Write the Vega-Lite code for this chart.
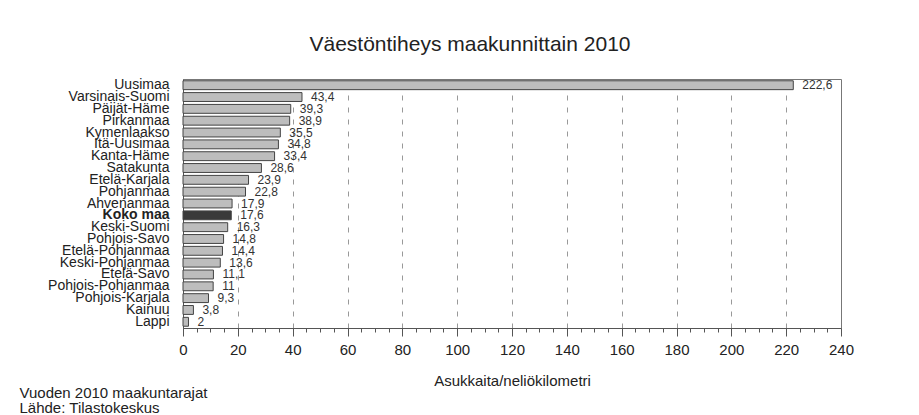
{
  "$schema": "https://vega.github.io/schema/vega-lite/v6.json",
  "autosize": {"type": "none"},
  "width": 658,
  "height": 249,
  "padding": {"left": 183, "top": 79, "right": 78, "bottom": 87},
  "background": "white",
  "config": {
    "font": "Liberation Sans",
    "locale": {"number": {"decimal": ",", "thousands": "\u00a0", "grouping": [3], "currency": ["", " €"]}},
    "view": {"stroke": "#777", "strokeWidth": 1}
  },
  "title": {
    "text": "Väestöntiheys maakunnittain 2010",
    "fontSize": 21,
    "fontWeight": "normal",
    "color": "#222",
    "anchor": "middle",
    "baseline": "alphabetic",
    "offset": 6,
    "dx": -42
  },
  "data": {
    "values": [
      {"maakunta": "Uusimaa", "tiheys": 222.6},
      {"maakunta": "Varsinais-Suomi", "tiheys": 43.4},
      {"maakunta": "Päijät-Häme", "tiheys": 39.3},
      {"maakunta": "Pirkanmaa", "tiheys": 38.9},
      {"maakunta": "Kymenlaakso", "tiheys": 35.5},
      {"maakunta": "Itä-Uusimaa", "tiheys": 34.8},
      {"maakunta": "Kanta-Häme", "tiheys": 33.4},
      {"maakunta": "Satakunta", "tiheys": 28.6},
      {"maakunta": "Etelä-Karjala", "tiheys": 23.9},
      {"maakunta": "Pohjanmaa", "tiheys": 22.8},
      {"maakunta": "Ahvenanmaa", "tiheys": 17.9},
      {"maakunta": "Koko maa", "tiheys": 17.6},
      {"maakunta": "Keski-Suomi", "tiheys": 16.3},
      {"maakunta": "Pohjois-Savo", "tiheys": 14.8},
      {"maakunta": "Etelä-Pohjanmaa", "tiheys": 14.4},
      {"maakunta": "Keski-Pohjanmaa", "tiheys": 13.6},
      {"maakunta": "Etelä-Savo", "tiheys": 11.1},
      {"maakunta": "Pohjois-Pohjanmaa", "tiheys": 11},
      {"maakunta": "Pohjois-Karjala", "tiheys": 9.3},
      {"maakunta": "Kainuu", "tiheys": 3.8},
      {"maakunta": "Lappi", "tiheys": 2}
    ]
  },
  "encoding": {
    "y": {
      "field": "maakunta",
      "type": "nominal",
      "sort": null,
      "scale": {"paddingInner": 0.25, "paddingOuter": 0.15},
      "axis": {
        "title": ["Vuoden 2010 maakuntarajat", "Lähde: Tilastokeskus"],
        "titleAngle": 0,
        "titleAlign": "left",
        "titleBaseline": "alphabetic",
        "titleX": -164,
        "titleY": 318,
        "titleFontSize": 15,
        "titleFontWeight": "normal",
        "titleColor": "#222",
        "titleLineHeight": 15,
        "ticks": false,
        "domain": true,
        "domainColor": "#555",
        "labelPadding": 14,
        "labelFontSize": 14,
        "labelColor": "#222",
        "labelLimit": 300,
        "labelFontWeight": {"condition": {"test": "datum.value === 'Koko maa'", "value": "bold"}, "value": "normal"}
      }
    },
    "x": {
      "field": "tiheys",
      "type": "quantitative",
      "scale": {"domain": [0, 240], "nice": false},
      "axis": {
        "title": "Asukkaita/neliökilometri",
        "titleFontSize": 15,
        "titleFontWeight": "normal",
        "titleColor": "#222",
        "titlePadding": 16,
        "values": [0,5,10,15,20,25,30,35,40,45,50,55,60,65,70,75,80,85,90,95,100,105,110,115,120,125,130,135,140,145,150,155,160,165,170,175,180,185,190,195,200,205,210,215,220,225,230,235,240],
        "labelExpr": "datum.value % 20 === 0 ? datum.label : ''",
        "labelFlush": false,
        "labelOverlap": false,
        "labelFontSize": 15,
        "labelColor": "#222",
        "labelPadding": 6,
        "domainColor": "#555",
        "tickColor": "#555",
        "tickSize": {"condition": {"test": "datum.value % 20 === 0", "value": 8}, "value": 4},
        "grid": true,
        "gridColor": "#999",
        "gridDash": [5, 7],
        "gridOpacity": {"condition": {"test": "datum.value % 20 === 0 && datum.value > 0 && datum.value < 240", "value": 1}, "value": 0}
      }
    }
  },
  "layer": [
    {
      "mark": {"type": "bar", "stroke": "#444", "strokeWidth": 1},
      "encoding": {
        "color": {
          "condition": {"test": "datum.maakunta === 'Koko maa'", "value": "#3a3a3a"},
          "value": "#bdbdbd"
        }
      }
    },
    {
      "mark": {"type": "text", "align": "left", "baseline": "middle", "dx": 9, "fontSize": 12, "color": "#333"},
      "encoding": {
        "text": {"field": "tiheys", "type": "quantitative", "format": ".4~r"}
      }
    }
  ]
}
